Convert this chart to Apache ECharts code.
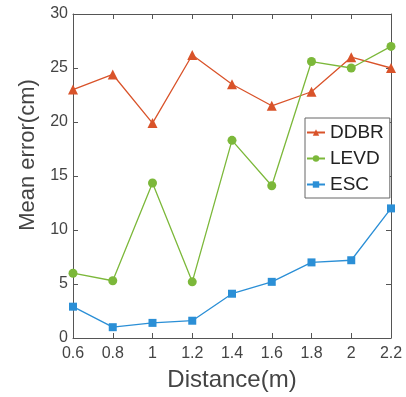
<!DOCTYPE html>
<html><head><meta charset="utf-8">
<script src="https://cdn.jsdelivr.net/npm/echarts@6/dist/echarts.min.js"></script>
<style>html,body{margin:0;padding:0;background:#fff}#c{width:406px;height:397px}</style>
</head><body><div id="c"></div>
<script>
const distances = [0.6, 0.8, 1.0, 1.2, 1.4, 1.6, 1.8, 2.0, 2.2];
const ddbr = [23.0, 24.4, 19.9, 26.2, 23.5, 21.5, 22.8, 26.0, 25.0];
const levd = [6.0, 5.3, 14.35, 5.2, 18.3, 14.1, 25.6, 25.0, 27.0];
const esc = [2.9, 1.0, 1.4, 1.6, 4.1, 5.2, 7.0, 7.2, 12.0];
const seriesNames = ['DDBR', 'LEVD', 'ESC'];
const colors = ['#d9532a', '#7cb83a', '#2b8fd6'];
const font = 'Arial, "Liberation Sans", sans-serif';
const axisColor = '#555';
const textColor = '#444';
function pairs(vals){ return distances.map((d,i)=>[d, vals[i]]); }
const chart = echarts.init(document.getElementById('c'));
const fmt = v => String(parseFloat(v.toFixed(1)));
const baseX = {type:'value', min:0.6, max:2.2, interval:0.2,
  axisLine:{show:true,onZero:false,lineStyle:{color:axisColor,width:1}},
  axisTick:{show:true,inside:true,length:5,lineStyle:{color:axisColor}},
  splitLine:{show:false}};
const baseY = {type:'value', min:0, max:30, interval:5,
  axisLine:{show:true,onZero:false,lineStyle:{color:axisColor,width:1}},
  axisTick:{show:true,inside:true,length:5,lineStyle:{color:axisColor}},
  splitLine:{show:false}};
chart.setOption({
  animation:false,
  backgroundColor:'#fff',
  grid:{left:73, right:15, top:14, bottom:57},
  legend:{
    orient:'vertical', left:305, top:118, width:86,
    backgroundColor:'#fff', borderColor:'#666', borderWidth:1,
    padding:[5,6,4,1], itemGap:7, itemWidth:18, itemHeight:8,
    textStyle:{fontFamily:font, fontSize:19, color:'#222'},
    data: seriesNames
  },
  xAxis:[
    Object.assign({}, baseX, {position:'bottom', name:'Distance(m)', nameLocation:'middle', nameGap:30,
      nameTextStyle:{fontFamily:font, fontSize:24, color:textColor},
      axisLabel:{formatter:fmt, fontFamily:font, fontSize:16, color:textColor, margin:8}}),
    Object.assign({}, baseX, {position:'top', axisLabel:{show:false}})
  ],
  yAxis:[
    Object.assign({}, baseY, {position:'left', name:'Mean error(cm)', nameLocation:'middle', nameGap:28,
      nameTextStyle:{fontFamily:font, fontSize:22, color:textColor, padding:[0,0,0,42]},
      axisLabel:{fontFamily:font, fontSize:16, color:textColor, margin:5}}),
    Object.assign({}, baseY, {position:'right', axisLabel:{show:false}})
  ],
  series:[
    {name:seriesNames[0], type:'line', data:pairs(ddbr), symbol:'triangle', symbolSize:10,
     itemStyle:{color:colors[0]}, lineStyle:{color:colors[0], width:1.3}},
    {name:seriesNames[1], type:'line', data:pairs(levd), symbol:'circle', symbolSize:9,
     itemStyle:{color:colors[1]}, lineStyle:{color:colors[1], width:1.3}},
    {name:seriesNames[2], type:'line', data:pairs(esc), symbol:'rect', symbolSize:8,
     itemStyle:{color:colors[2]}, lineStyle:{color:colors[2], width:1.3}}
  ]
});
</script></body></html>
